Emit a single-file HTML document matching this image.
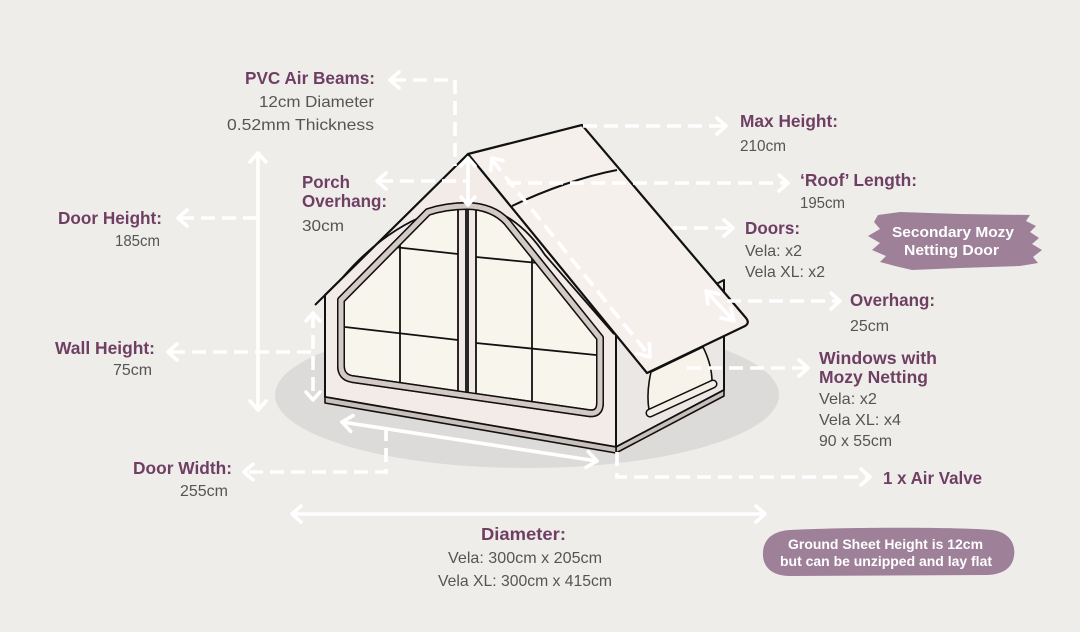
<!DOCTYPE html>
<html>
<head>
<meta charset="utf-8">
<style>
html,body{margin:0;padding:0;background:#eeedea;}
svg{display:block;}
.h{font-family:"Liberation Sans",sans-serif;font-weight:bold;fill:#6f3f63;font-size:17.5px;}
.b{font-family:"Liberation Sans",sans-serif;fill:#555;font-size:16px;}
.w{font-family:"Liberation Sans",sans-serif;font-weight:bold;fill:#fff;}
</style>
</head>
<body>
<svg width="1080" height="632" viewBox="0 0 1080 632" xmlns="http://www.w3.org/2000/svg">
<rect width="1080" height="632" fill="#eeedea"/>

<!-- shadow -->
<ellipse cx="527" cy="395" rx="252" ry="73" fill="#dddbd9"/>

<!-- side wall -->
<path d="M616,335 L724,280 L724,390 L616,447 Z" fill="#ebe7e5" stroke="#111" stroke-width="2" stroke-linejoin="round"/>
<path d="M616,447 L724,390 L724,396 L616,453 Z" fill="#c9bfbb" stroke="#111" stroke-width="1.6" stroke-linejoin="round"/>
<!-- side window -->
<path d="M651,372 C648,385 647,398 649,410 L712,382 C712,370 708,357 703,347 Z" fill="#f7f3ea" stroke="#111" stroke-width="1.6" stroke-linejoin="round"/>
<line x1="650" y1="413" x2="713" y2="384" stroke="#111" stroke-width="9" stroke-linecap="round"/>
<line x1="650" y1="413" x2="713" y2="384" stroke="#f3eee6" stroke-width="6" stroke-linecap="round"/>

<!-- front face -->
<path d="M468,154 L325,295 L325,397 L616,447 L616,335 Z" fill="#f3ebe8" stroke="#111" stroke-width="2" stroke-linejoin="round"/>
<line x1="468" y1="154" x2="315" y2="305" stroke="#111" stroke-width="2"/>
<path d="M325,397 L616,447 L616,453 L325,403 Z" fill="#c9bfbb" stroke="#111" stroke-width="1.6" stroke-linejoin="round"/>

<!-- air beam arcs -->
<path d="M343,277 C375,240 415,212 460,206" fill="none" stroke="#111" stroke-width="1.8"/>
<path d="M470,205 C500,207 526,226 545,255 L614,334" fill="none" stroke="#111" stroke-width="1.8"/>

<!-- front window -->
<path d="M341,300 L341,366 Q341,377 352,379 L588,413 Q600,415 600,403 L600,338 L507,222 C498,212 484,206 467,206 C452,206 440,208 428,212 Z" fill="#f8f5ec" stroke="#111" stroke-width="8" stroke-linejoin="round"/>
<!-- center strip -->
<rect x="458" y="206" width="18" height="188" fill="#f1e9e6"/>
<g stroke="#111" stroke-width="1.8" fill="none">
  <line x1="458" y1="206" x2="458" y2="393"/>
  <line x1="466" y1="206" x2="466" y2="394"/>
  <line x1="468" y1="206" x2="468" y2="395"/>
  <line x1="476" y1="206" x2="476" y2="396"/>
  <line x1="400" y1="240" x2="400" y2="384"/>
  <line x1="532" y1="256" x2="532" y2="402"/>
  <line x1="394" y1="247" x2="458" y2="254"/>
  <line x1="345" y1="327" x2="458" y2="340"/>
  <line x1="476" y1="257" x2="538" y2="263"/>
  <line x1="476" y1="343" x2="596" y2="355"/>
</g>
<path d="M341,300 L341,366 Q341,377 352,379 L588,413 Q600,415 600,403 L600,338 L507,222 C498,212 484,206 467,206 C452,206 440,208 428,212 Z" fill="none" stroke="#111" stroke-width="8" stroke-linejoin="round"/>
<path d="M341,300 L341,366 Q341,377 352,379 L588,413 Q600,415 600,403 L600,338 L507,222 C498,212 484,206 467,206 C452,206 440,208 428,212 Z" fill="none" stroke="#d3c9c5" stroke-width="5" stroke-linejoin="round"/>

<!-- roof -->
<path d="M468,154 L582,125 L746,318 Q750,323 745,326 L647,373 Z" fill="#f6f0ed" stroke="#111" stroke-width="2.2" stroke-linejoin="round"/>
<path d="M512,206 C545,190 585,176 617,170" fill="none" stroke="#111" stroke-width="2"/>

<!-- white arrows -->
<g stroke="#fff" stroke-width="3.6" fill="none">
  <g stroke-dasharray="14 7">
    <path d="M392,80 L455,80 L455,166"/>
    <path d="M180,218 L256,218"/>
    <path d="M379,181 L470,181"/>
    <path d="M583,126 L724,126"/>
    <path d="M507,183 L786,183"/>
    <path d="M492,160 L648,354"/>
    <path d="M673,228 L731,228"/>
    <path d="M727,301 L838,301"/>
    <path d="M687,368 L806,368"/>
    <path d="M617,452 L617,477 L868,477"/>
    <path d="M386,427 L386,472 L246,472"/>
    <path d="M313,314 L313,398"/>
    <path d="M311,352 L170,352"/>
  </g>
  <g stroke-linecap="round" stroke-linejoin="round">
    <path d="M258,155 L258,408"/>
    <path d="M468,158 L468,205"/>
    <path d="M707,292 L733,320"/>
    <path d="M342,422 L597,461"/>
    <path d="M292,514 L765,514"/>
    <!-- chevrons -->
    <polyline points="399,72 390,80 399,88"/>
    <polyline points="187,210 178,218 187,226"/>
    <polyline points="250,162 258,153 266,162"/>
    <polyline points="250,401 258,410 266,401"/>
    <polyline points="386,173 377,181 386,189"/>
    <polyline points="461,166 468,158 475,166"/>
    <polyline points="461,197 468,205 475,197"/>
    <polyline points="717,118 726,126 717,134"/>
    <polyline points="779,175 788,183 779,191"/>
    <polyline points="490.6,170.6 492,158 503.1,160.6"/>
    <polyline points="636.9,353.4 650,357 649.3,343.4"/>
    <polyline points="724,220 733,228 724,236"/>
    <polyline points="831,293 840,301 831,309"/>
    <polyline points="708,304 706,291 719,294"/>
    <polyline points="721,318 734,321 731,308"/>
    <polyline points="799,360 808,368 799,376"/>
    <polyline points="861,469 870,477 861,485"/>
    <polyline points="350.7,431.4 342,422 353.1,415.6"/>
    <polyline points="585.9,467.4 597,461 588.3,451.6"/>
    <polyline points="253,464 244,472 253,480"/>
    <polyline points="306,321 313,313 320,321"/>
    <polyline points="306,392 313,400 320,392"/>
    <polyline points="177,344 168,352 177,360"/>
    <polyline points="301,506 292,514 301,522"/>
    <polyline points="756,506 765,514 756,522"/>
  </g>
</g>

<!-- badges -->
<path d="M878,215 L900,212 L960,214 L1030,215 L1026,221 L1036,226 L1030,232 L1039,238 L1032,244 L1042,250 L1033,257 L1038,263 L1020,266 L960,268 L912,270 L895,266 L880,262 L886,256 L872,250 L880,243 L868,236 L880,229 L874,222 Z" fill="#9e8099"/>
<text class="w" x="892" y="237" font-size="15" textLength="122" lengthAdjust="spacingAndGlyphs">Secondary Mozy</text>
<text class="w" x="904" y="255" font-size="15" textLength="95" lengthAdjust="spacingAndGlyphs">Netting Door</text>

<path d="M790,530 C850,527 960,527 992,530 C1010,532 1016,545 1014,556 C1012,570 1000,575 985,575 L790,576 C770,576 762,565 763,552 C764,538 774,531 790,530 Z" fill="#9e8099"/>
<text class="w" x="788" y="549" font-size="14" textLength="195" lengthAdjust="spacingAndGlyphs">Ground Sheet Height is 12cm</text>
<text class="w" x="780" y="566" font-size="14" textLength="212" lengthAdjust="spacingAndGlyphs">but can be unzipped and lay flat</text>

<!-- left labels -->
<text class="h" x="245" y="84" textLength="130" lengthAdjust="spacingAndGlyphs">PVC Air Beams:</text>
<text class="b" x="259" y="107" textLength="115" lengthAdjust="spacingAndGlyphs">12cm Diameter</text>
<text class="b" x="227" y="130" textLength="147" lengthAdjust="spacingAndGlyphs">0.52mm Thickness</text>

<text class="h" x="302" y="188" textLength="48" lengthAdjust="spacingAndGlyphs">Porch</text>
<text class="h" x="302" y="207" textLength="85" lengthAdjust="spacingAndGlyphs">Overhang:</text>
<text class="b" x="302" y="231" textLength="42" lengthAdjust="spacingAndGlyphs">30cm</text>

<text class="h" x="58" y="224" textLength="104" lengthAdjust="spacingAndGlyphs">Door Height:</text>
<text class="b" x="115" y="246" textLength="45" lengthAdjust="spacingAndGlyphs">185cm</text>

<text class="h" x="55" y="354" textLength="100" lengthAdjust="spacingAndGlyphs">Wall Height:</text>
<text class="b" x="113" y="375" textLength="39" lengthAdjust="spacingAndGlyphs">75cm</text>

<text class="h" x="133" y="474" textLength="99" lengthAdjust="spacingAndGlyphs">Door Width:</text>
<text class="b" x="180" y="496" textLength="48" lengthAdjust="spacingAndGlyphs">255cm</text>

<!-- right labels -->
<text class="h" x="740" y="127" textLength="98" lengthAdjust="spacingAndGlyphs">Max Height:</text>
<text class="b" x="740" y="151" textLength="46" lengthAdjust="spacingAndGlyphs">210cm</text>

<text class="h" x="800" y="186" textLength="117" lengthAdjust="spacingAndGlyphs">‘Roof’ Length:</text>
<text class="b" x="800" y="208" textLength="45" lengthAdjust="spacingAndGlyphs">195cm</text>

<text class="h" x="745" y="234" textLength="55" lengthAdjust="spacingAndGlyphs">Doors:</text>
<text class="b" x="745" y="256" textLength="57" lengthAdjust="spacingAndGlyphs">Vela: x2</text>
<text class="b" x="745" y="277" textLength="80" lengthAdjust="spacingAndGlyphs">Vela XL: x2</text>

<text class="h" x="850" y="306" textLength="85" lengthAdjust="spacingAndGlyphs">Overhang:</text>
<text class="b" x="850" y="331" textLength="39" lengthAdjust="spacingAndGlyphs">25cm</text>

<text class="h" x="819" y="364" textLength="118" lengthAdjust="spacingAndGlyphs">Windows with</text>
<text class="h" x="819" y="383" textLength="109" lengthAdjust="spacingAndGlyphs">Mozy Netting</text>
<text class="b" x="819" y="404" textLength="58" lengthAdjust="spacingAndGlyphs">Vela: x2</text>
<text class="b" x="819" y="425" textLength="82" lengthAdjust="spacingAndGlyphs">Vela XL: x4</text>
<text class="b" x="819" y="446" textLength="73" lengthAdjust="spacingAndGlyphs">90 x 55cm</text>

<text class="h" x="883" y="484" textLength="99" lengthAdjust="spacingAndGlyphs">1 x Air Valve</text>

<!-- diameter -->
<text class="h" x="481" y="540" textLength="85" lengthAdjust="spacingAndGlyphs">Diameter:</text>
<text class="b" x="448" y="563" textLength="154" lengthAdjust="spacingAndGlyphs">Vela: 300cm x 205cm</text>
<text class="b" x="438" y="586" textLength="174" lengthAdjust="spacingAndGlyphs">Vela XL: 300cm x 415cm</text>
</svg>
</body>
</html>
